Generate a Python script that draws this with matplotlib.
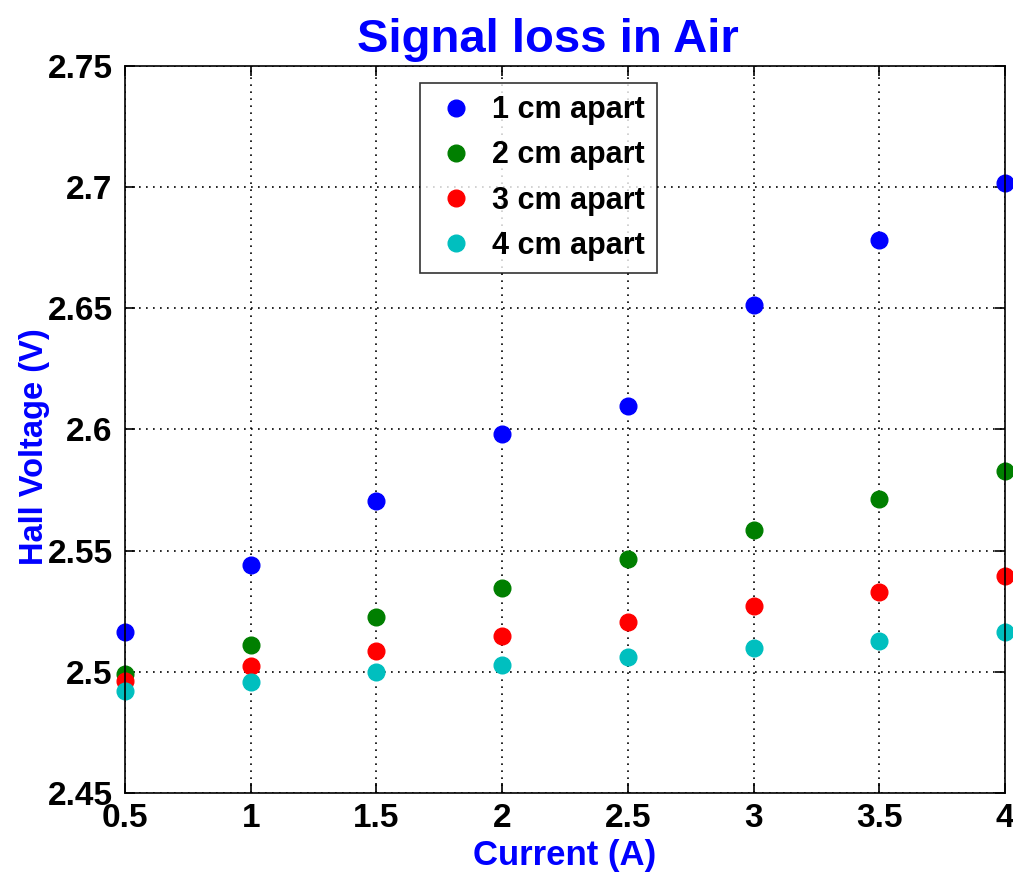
import matplotlib
matplotlib.use("Agg")
import matplotlib.pyplot as plt

current = [0.5, 1.0, 1.5, 2.0, 2.5, 3.0, 3.5, 4.0]

# Hall voltage (V) for each probe spacing
v_1cm = [2.5163, 2.5442, 2.5703, 2.5983, 2.6098, 2.6515, 2.6780, 2.7018]
v_2cm = [2.4990, 2.5112, 2.5228, 2.5346, 2.5466, 2.5585, 2.5715, 2.5830]
v_3cm = [2.4962, 2.5025, 2.5088, 2.5147, 2.5204, 2.5270, 2.5330, 2.5394]
v_4cm = [2.4923, 2.4960, 2.5000, 2.5030, 2.5063, 2.5097, 2.5128, 2.5163]

labels = ["1 cm apart", "2 cm apart", "3 cm apart", "4 cm apart"]
colors = ["#0000ff", "#007f00", "#ff0000", "#00bfbf"]

plt.rcParams['font.family'] = ['Liberation Sans', 'DejaVu Sans']
plt.rcParams['font.weight'] = 'bold'

fig = plt.figure(figsize=(10.13, 8.75), dpi=100)
ax = fig.add_axes([0.1234, 0.0937, 0.8687, 0.8309])

for v, lab, c in zip([v_1cm, v_2cm, v_3cm, v_4cm], labels, colors):
    ax.plot(current, v, 'o', color=c, markersize=12, label=lab, clip_on=False)

ax.set_xlim(0.5, 4)
ax.set_ylim(2.45, 2.75)
ax.set_xticks([0.5, 1, 1.5, 2, 2.5, 3, 3.5, 4])
ax.set_xticklabels(["0.5", "1", "1.5", "2", "2.5", "3", "3.5", "4"])
ax.set_yticks([2.45, 2.5, 2.55, 2.6, 2.65, 2.7, 2.75])
ax.set_yticklabels(["2.45", "2.5", "2.55", "2.6", "2.65", "2.7", "2.75"])
ax.tick_params(direction='in', length=7, width=1.2, labelsize=24,
               top=True, right=True)
ax.tick_params(axis='x', pad=7)
ax.tick_params(axis='y', pad=9)
for lbl in ax.get_xticklabels() + ax.get_yticklabels():
    lbl.set_fontweight('bold')
ax.grid(True, linestyle=(0, (1, 3.2)), color='black', linewidth=1.2)
for sp in ax.spines.values():
    sp.set_linewidth(1.2)

ax.set_title("Signal loss in Air", color='#0000ff', fontsize=34,
             fontweight='bold', x=0.48, pad=10)
ax.set_xlabel("Current (A)", color='#0000ff', fontsize=25,
              fontweight='bold', labelpad=4)
ax.set_ylabel("Hall Voltage (V)", color='#0000ff', fontsize=23.5,
              fontweight='bold')
ax.yaxis.set_label_coords(-0.085, 0.476)

leg = ax.legend(loc='upper left', bbox_to_anchor=(0.335, 0.9766),
                fontsize=22, frameon=True, fancybox=False,
                edgecolor='black', handlelength=1.6, handletextpad=0.35,
                borderpad=0.4, labelspacing=0.5, borderaxespad=0)
leg.get_frame().set_linewidth(1.2)
for t in leg.get_texts():
    t.set_fontweight('bold')

fig.savefig("out.png", dpi=100)
